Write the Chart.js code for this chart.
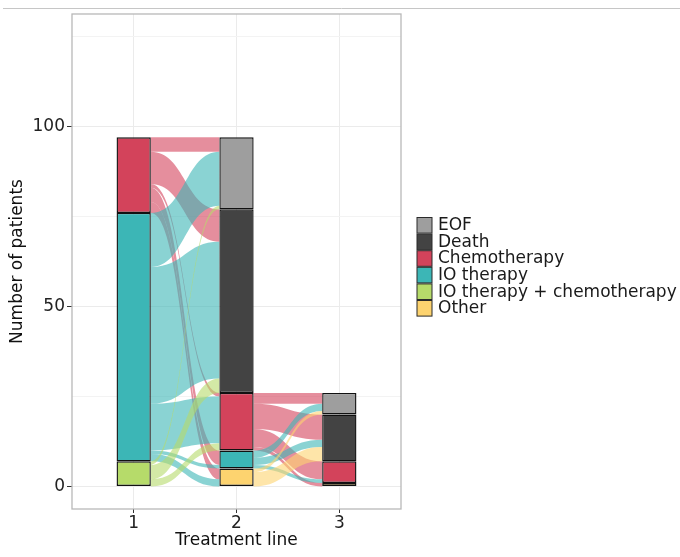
<!DOCTYPE html>
<html>
<head>
<meta charset="utf-8">
<script src="https://cdn.jsdelivr.net/npm/chart.js@4.4.1/dist/chart.umd.min.js"></script>
<style>
  html, body { margin: 0; padding: 0; background: #fff; }
  #wrap { width: 680px; height: 557px; position: relative; }
</style>
</head>
<body>
<div id="wrap"><canvas id="alluvial"></canvas></div>
<script>
// Treatment lines on the x axis
const treatmentLines = [1, 2, 3];

// Strata, top to bottom as stacked in each column
const strata = ["EOF", "Death", "Chemotherapy", "IO therapy", "IO therapy + chemotherapy", "Other"];
const strataColors = ["#9e9e9e", "#434343", "#d3435b", "#3cb6b6", "#b6db6a", "#fdd36f"];

// Patients per stratum at each line (same order as strata)
const line1Counts = [0, 0, 21, 69, 7, 0];
const line2Counts = [20, 51, 16, 5, 0, 5];
const line3Counts = [6, 13, 6, 0, 0, 1];

// Flows between lines: [from, to, patients]
const flows1to2 = [
  ["Chemotherapy", "EOF", 4],
  ["Chemotherapy", "Death", 9],
  ["Chemotherapy", "Chemotherapy", 1],
  ["Chemotherapy", "IO therapy", 4],
  ["Chemotherapy", "Other", 3],
  ["IO therapy", "EOF", 15],
  ["IO therapy", "Death", 38],
  ["IO therapy", "Chemotherapy", 13],
  ["IO therapy", "IO therapy", 1],
  ["IO therapy", "Other", 2],
  ["IO therapy + chemotherapy", "EOF", 1],
  ["IO therapy + chemotherapy", "Death", 4],
  ["IO therapy + chemotherapy", "Chemotherapy", 2],
];
const flows2to3 = [
  ["Chemotherapy", "EOF", 3],
  ["Chemotherapy", "Death", 7],
  ["Chemotherapy", "Chemotherapy", 5],
  ["Chemotherapy", "Other", 1],
  ["IO therapy", "EOF", 2],
  ["IO therapy", "Death", 2],
  ["IO therapy", "Chemotherapy", 1],
  ["Other", "EOF", 1],
  ["Other", "Death", 4],
];

const yTickLabels = [0, 50, 100];

const lineCounts = [line1Counts, line2Counts, line3Counts];
const flowSets = [flows1to2, flows2to3];

// stacked bars: first dataset sits at the bottom, so go through strata backwards
const datasets = strata.map(function (name, i) {
  return {
    label: name,
    data: treatmentLines.map(function (x, k) {
      const v = lineCounts[k][i];
      return { x: x, y: v > 0 ? v : null };
    }),
    backgroundColor: strataColors[i],
    borderColor: "#111",
    borderWidth: 1.4,
    borderSkipped: false,
    categoryPercentage: 1 / 3,
    barPercentage: 1,
  };
}).reverse();

function hexAlpha(hex, a) {
  const n = parseInt(hex.slice(1), 16);
  return "rgba(" + (n >> 16) + "," + ((n >> 8) & 255) + "," + (n & 255) + "," + a + ")";
}

// top of each stratum (in patients) for one column
function stratumTops(counts) {
  const tops = [];
  for (let i = 0; i < counts.length; i++) {
    let s = 0;
    for (let j = i; j < counts.length; j++) s += counts[j];
    tops.push(s);
  }
  return tops;
}

const flowPlugin = {
  id: "flows",
  beforeDatasetsDraw(chart) {
    const ctx = chart.ctx;
    const xs = chart.scales.x, ys = chart.scales.y;
    const halfW = (xs.getPixelForValue(2) - xs.getPixelForValue(1)) / 6;
    ctx.save();
    flowSets.forEach(function (flows, k) {
      const leftTops = stratumTops(lineCounts[k]);
      const rightTops = stratumTops(lineCounts[k + 1]);
      const outUsed = strata.map(() => 0);
      const inUsed = strata.map(() => 0);
      // outgoing lodes ordered by destination, incoming by source
      const outOrder = flows.slice().sort((a, b) =>
        strata.indexOf(a[0]) - strata.indexOf(b[0]) || strata.indexOf(a[1]) - strata.indexOf(b[1]));
      const inOrder = flows.slice().sort((a, b) =>
        strata.indexOf(a[1]) - strata.indexOf(b[1]) || strata.indexOf(a[0]) - strata.indexOf(b[0]));
      const pos = new Map();
      outOrder.forEach(function (f) {
        const s = strata.indexOf(f[0]);
        const top = leftTops[s] - outUsed[s];
        outUsed[s] += f[2];
        pos.set(f, { l0: top, l1: top - f[2] });
      });
      inOrder.forEach(function (f) {
        const d = strata.indexOf(f[1]);
        const top = rightTops[d] - inUsed[d];
        inUsed[d] += f[2];
        const p = pos.get(f);
        p.r0 = top; p.r1 = top - f[2];
      });
      const x0 = xs.getPixelForValue(treatmentLines[k]) + halfW;
      const x1 = xs.getPixelForValue(treatmentLines[k + 1]) - halfW;
      const xm = (x0 + x1) / 2;
      flows.forEach(function (f) {
        const p = pos.get(f);
        const a0 = ys.getPixelForValue(p.l0), a1 = ys.getPixelForValue(p.l1);
        const b0 = ys.getPixelForValue(p.r0), b1 = ys.getPixelForValue(p.r1);
        ctx.beginPath();
        ctx.moveTo(x0, a0);
        ctx.bezierCurveTo(xm, a0, xm, b0, x1, b0);
        ctx.lineTo(x1, b1);
        ctx.bezierCurveTo(xm, b1, xm, a1, x0, a1);
        ctx.closePath();
        ctx.fillStyle = hexAlpha(strataColors[strata.indexOf(f[0])], 0.6);
        ctx.fill();
      });
    });
    ctx.restore();
  },
  afterDraw(chart) {
    const ctx = chart.ctx;
    const area = chart.chartArea;
    ctx.save();
    // thin rule across the top of the screenshot
    ctx.strokeStyle = "#c6c6c6";
    ctx.lineWidth = 1;
    ctx.beginPath();
    ctx.moveTo(3, 8.5);
    ctx.lineTo(680, 8.5);
    ctx.stroke();
    // panel border
    ctx.strokeStyle = "#b8b8b8";
    ctx.lineWidth = 1.3;
    ctx.strokeRect(area.left, area.top, area.right - area.left, area.bottom - area.top);
    // legend
    const rowH = 16.6, top = 217, keyX = 417;
    ctx.font = "17px 'DejaVu Sans'";
    ctx.textBaseline = "middle";
    strata.forEach(function (name, i) {
      const y = top + i * rowH;
      ctx.fillStyle = strataColors[i];
      ctx.fillRect(keyX, y + 0.5, 15, rowH - 1);
      ctx.strokeStyle = "#2a2a2a";
      ctx.lineWidth = 1;
      ctx.strokeRect(keyX, y + 0.5, 15, rowH - 1);
      ctx.fillStyle = "#1a1a1a";
      ctx.fillText(name, 438, y + rowH / 2 + 0.5);
    });
    ctx.restore();
  },
};

const ctx = document.getElementById("alluvial").getContext("2d");
const alluvialChart = new Chart(ctx, {
  type: "bar",
  data: { datasets: datasets },
  options: {
    responsive: true,
    maintainAspectRatio: false,
    animation: false,
    layout: { padding: { top: 14, right: 279, left: 0, bottom: 0 } },
    scales: {
      x: {
        type: "linear",
        stacked: true,
        offset: false,
        min: 0.4,
        max: 3.6,
        afterFit: function (scale) { scale.height = 48; },
        ticks: {
          stepSize: 1,
          includeBounds: false,
          padding: 0,
          color: "#222",
          font: { family: "DejaVu Sans", size: 17 },
        },
        grid: { offset: false, color: "#ebebeb", lineWidth: 1, tickLength: 4, tickColor: "#333" },
        border: { display: false },
        title: {
          display: true,
          text: "Treatment line",
          color: "#111",
          font: { family: "DejaVu Sans", size: 17 },
          padding: { top: 6, bottom: 6 },
        },
      },
      y: {
        stacked: true,
        min: -6.25,
        max: 131.25,
        afterFit: function (scale) { scale.width = 72; },
        ticks: {
          stepSize: 25,
          includeBounds: false,
          padding: 2,
          color: "#222",
          font: { family: "DejaVu Sans", size: 17 },
          callback: function (v) { return yTickLabels.includes(v) ? String(v) : ""; },
        },
        grid: {
          color: function (c) { return c.tick && yTickLabels.includes(c.tick.value) ? "#ebebeb" : "#f3f3f3"; },
          lineWidth: 1,
          tickLength: 5,
          tickColor: function (c) { return c.tick && yTickLabels.includes(c.tick.value) ? "#333" : "rgba(0,0,0,0)"; },
        },
        border: { display: false },
        title: {
          display: true,
          text: "Number of patients",
          color: "#111",
          font: { family: "DejaVu Sans", size: 17 },
          padding: { top: 7, bottom: 7 },
        },
      },
    },
    plugins: {
      legend: { display: false },
      tooltip: { enabled: false },
    },
  },
  plugins: [flowPlugin],
});
</script>
</body>
</html>
